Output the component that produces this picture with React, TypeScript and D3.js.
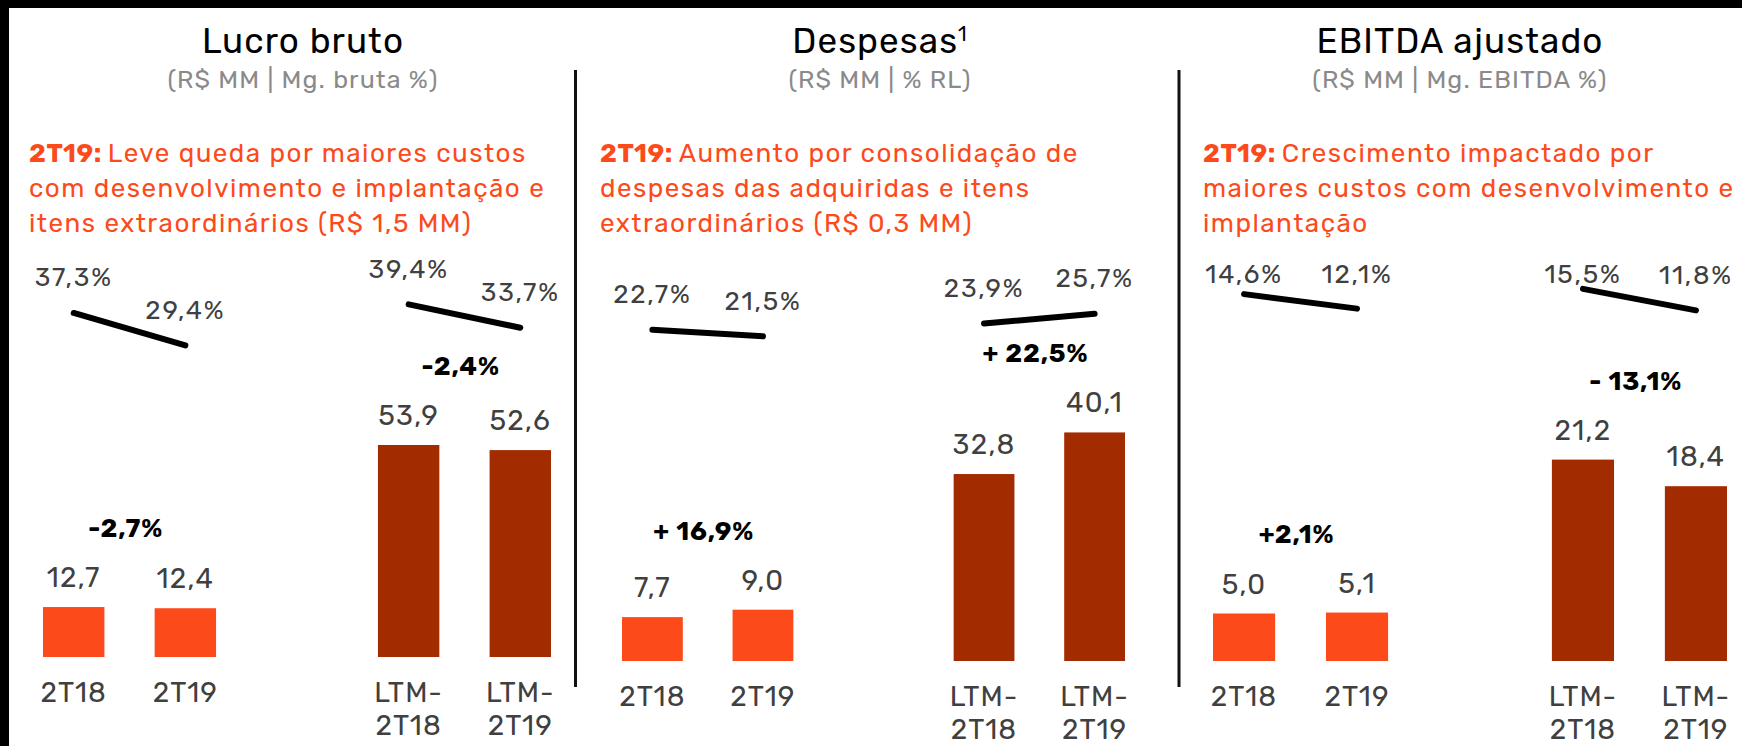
import React from 'react'
import * as d3 from 'd3'

const W = 1742
const H = 746

// categories (blank slot keeps the gap between quarter and LTM groups)
const slots = ['2T18', '2T19', '', 'LTM-2T18', 'LTM-2T19']
const categories = ['2T18', '2T19', 'LTM-2T18', 'LTM-2T19']

const titles = ['Lucro bruto', 'Despesas', 'EBITDA ajustado']
const subtitles = ['(R$ MM | Mg. bruta %)', '(R$ MM | % RL)', '(R$ MM | Mg. EBITDA %)']
const noteLines = [
  ['Leve queda por maiores custos', 'com desenvolvimento e implantação e', 'itens extraordinários (R$ 1,5 MM)'],
  ['Aumento por consolidação de', 'despesas das adquiridas e itens', 'extraordinários (R$ 0,3 MM)'],
  ['Crescimento impactado por', 'maiores custos com desenvolvimento e', 'implantação'],
]

const lucroValues = [12.7, 12.4, 53.9, 52.6]
const lucroMargins = [37.3, 29.4, 39.4, 33.7]
const lucroChanges = ['-2,7%', '-2,4%']

const despesasValues = [7.7, 9.0, 32.8, 40.1]
const despesasMargins = [22.7, 21.5, 23.9, 25.7]
const despesasChanges = ['+ 16,9%', '+ 22,5%']

const ebitdaValues = [5.0, 5.1, 21.2, 18.4]
const ebitdaMargins = [14.6, 12.1, 15.5, 11.8]
const ebitdaChanges = ['+2,1%', '- 13,1%']

const ORANGE = '#fc4a1a'
const DARK = '#a32b00'
const GREY = '#404040'
const FONT = 'Rubik, Roboto, sans-serif'

const fmt = (v: number) => v.toFixed(1).replace('.', ',')
const fmtPct = (v: number) => fmt(v) + '%'

type Panel = {
  values: number[]
  margins: number[]
  changes: string[]
  center: number
  textX: number
  xRange: [number, number]
  base: number
  yMax: number
  yTop: number
  mDomain: [number, number]
  mRange: [number, number]
  labelFloor: number
}

const panels: Panel[] = [
  { values: lucroValues, margins: lucroMargins, changes: lucroChanges, center: 303, textX: 29,
    xRange: [43, 551], base: 657, yMax: 60, yTop: 421,
    mDomain: [25, 40], mRange: [363.4, 301.9], labelFloor: 0 },
  { values: despesasValues, margins: despesasMargins, changes: despesasChanges, center: 880, textX: 600,
    xRange: [622, 1125], base: 661, yMax: 45, yTop: 404.5,
    mDomain: [20, 26], mRange: [344.3, 312.2], labelFloor: 0 },
  { values: ebitdaValues, margins: ebitdaMargins, changes: ebitdaChanges, center: 1460, textX: 1203,
    xRange: [1213, 1727], base: 661, yMax: 25, yTop: 423.5,
    mDomain: [10, 16], mRange: [320.8, 286], labelFloor: 283 },
]

const dividers = [575.5, 1179]

function PanelChart({ p, i }: { p: Panel; i: number }) {
  const x = d3.scaleBand().domain(slots).range(p.xRange).paddingInner(0.45).paddingOuter(0)
  const y = d3.scaleLinear().domain([0, p.yMax]).range([p.base, p.yTop])
  const m = d3.scaleLinear().domain(p.mDomain).range(p.mRange)
  const cx = (c: string) => (x(c) as number) + x.bandwidth() / 2

  const pairs = [[0, 1], [2, 3]]

  return (
    <g>
      <text x={p.center} y={53} textAnchor="middle" fontSize={35} letterSpacing={1.1} fill="#000">
        {titles[i]}
        {i === 1 && <tspan fontSize={20} dy={-12}>1</tspan>}
      </text>
      <text x={p.center} y={88} textAnchor="middle" fontSize={25} letterSpacing={1.1} fill="#8a8a8a">
        {subtitles[i]}
      </text>

      {noteLines[i].map((ln, k) => (
        <text key={k} x={p.textX} y={162 + k * 35} fontSize={26} letterSpacing={1.5} fill={ORANGE}>
          {k === 0 && <tspan fontWeight="bold" letterSpacing={0.5}>2T19: </tspan>}
          {ln}
        </text>
      ))}

      {pairs.map((pr, k) => {
        const pts = pr.map(j => [cx(categories[j]), m(p.margins[j])] as [number, number])
        return (
          <path key={k} d={d3.line()(pts) as string} stroke="#000" strokeWidth={6}
            strokeLinecap="round" fill="none" />
        )
      })}
      {p.margins.map((v, j) => (
        <text key={j} x={cx(categories[j])} y={Math.max(m(v) - 26.5, p.labelFloor)}
          textAnchor="middle" fontSize={26} letterSpacing={1.8} fill={GREY}>{fmtPct(v)}</text>
      ))}

      {p.values.map((v, j) => (
        <g key={j}>
          <rect x={x(categories[j])} y={y(v)} width={x.bandwidth()} height={p.base - y(v)}
            fill={j < 2 ? ORANGE : DARK} />
          <text x={cx(categories[j])} y={y(v) - 20} textAnchor="middle" fontSize={28}
            letterSpacing={1.3} fill={GREY}>
            {fmt(v)}
          </text>
          {categories[j].startsWith('LTM') ? (
            <text x={cx(categories[j])} y={p.base + 45} textAnchor="middle" fontSize={28}
              letterSpacing={1.1} fill={GREY}>
              <tspan x={cx(categories[j])}>LTM-</tspan>
              <tspan x={cx(categories[j])} dy={33}>{categories[j].slice(4)}</tspan>
            </text>
          ) : (
            <text x={cx(categories[j])} y={p.base + 45} textAnchor="middle" fontSize={28}
              letterSpacing={1.1} fill={GREY}>
              {categories[j]}
            </text>
          )}
        </g>
      ))}

      {pairs.map((pr, k) => {
        const mid = (cx(categories[pr[0]]) + cx(categories[pr[1]])) / 2
        const top = Math.min(y(p.values[pr[0]]), y(p.values[pr[1]]))
        return (
          <text key={k} x={mid - 4} y={top - 70} textAnchor="middle" fontSize={26} fontWeight="bold"
            letterSpacing={0.8} fill="#000">{p.changes[k]}</text>
        )
      })}
    </g>
  )
}

export default function App() {
  return (
    <svg width={W} height={H} style={{ position: 'absolute', left: 0, top: 0, fontFamily: FONT }}>
      <rect width={W} height={H} fill="#fff" />
      <rect width={W} height={8} fill="#000" />
      <rect width={9} height={H} fill="#000" />
      {dividers.map(dx => (
        <line key={dx} x1={dx} x2={dx} y1={70} y2={687} stroke="#111" strokeWidth={3} />
      ))}
      {panels.map((p, i) => <PanelChart key={i} p={p} i={i} />)}
    </svg>
  )
}
